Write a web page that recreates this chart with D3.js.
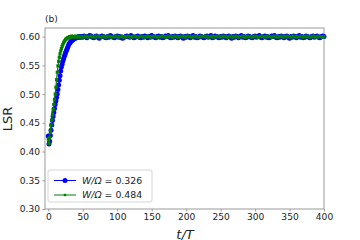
<!DOCTYPE html>
<html lang="en">
<head>
<meta charset="utf-8">
<title>LSR vs t/T</title>
<script src="https://d3js.org/d3.v7.min.js"></script>
<style>
body { margin: 0; background: #fff; }
text { font-family: "DejaVu Sans", sans-serif; fill: #222; }
</style>
</head>
<body>
<div id="my_dataviz"></div>
<script>

// ---- data ----
// sample times: every step during the rise, every 2 afterwards
var tRise = d3.range(0, 48, 1);
var tFlat = d3.range(48, 401, 2);
var times = tRise.concat(tFlat);

var blueRise = [0.427,0.413,0.418,0.428,0.437,0.446,0.454,0.461,0.468,0.475,
                0.482,0.488,0.494,0.500,0.508,0.516,0.524,0.532,0.540,0.547,
                0.552,0.557,0.561,0.565,0.568,0.572,0.575,0.578,0.581,0.584,
                0.587,0.589,0.590,0.592,0.593,0.594,0.595,0.596,0.597,0.597,
                0.598,0.598,0.599,0.599,0.600,0.599,0.600,0.599];
var blueFlat = [0.600,0.599,0.601,0.600,0.598,0.600,0.602,0.601,0.599,0.598,
                0.600,0.601,0.599,0.597,0.600,0.601,0.600,0.599,0.598,0.600,
                0.599,0.602,0.600,0.599,0.598,0.600,0.601,0.599,0.600,0.598,
                0.597,0.599,0.600,0.601,0.600,0.599,0.602,0.600,0.598,0.599,
                0.600,0.601,0.599,0.598,0.600,0.599,0.601,0.600,0.598,0.600,
                0.599,0.602,0.600,0.599,0.598,0.600,0.601,0.599,0.600,0.598,
                0.599,0.601,0.600,0.602,0.599,0.598,0.600,0.599,0.601,0.600,
                0.598,0.600,0.601,0.599,0.597,0.600,0.599,0.601,0.600,0.598,
                0.600,0.602,0.599,0.600,0.598,0.599,0.601,0.600,0.599,0.598,
                0.600,0.601,0.599,0.600,0.602,0.598,0.599,0.601,0.600,0.599,
                0.598,0.600,0.599,0.601,0.600,0.598,0.600,0.601,0.599,0.597,
                0.600,0.599,0.601,0.600,0.598,0.600,0.602,0.599,0.600,0.598,
                0.599,0.601,0.600,0.599,0.598,0.600,0.601,0.599,0.600,0.602,
                0.599,0.598,0.600,0.601,0.599,0.600,0.598,0.599,0.601,0.600,
                0.602,0.599,0.598,0.600,0.599,0.601,0.600,0.598,0.600,0.601,
                0.599,0.597,0.600,0.599,0.601,0.600,0.598,0.600,0.602,0.599,
                0.600,0.598,0.599,0.601,0.600,0.599,0.598,0.600,0.601,0.599,
                0.600,0.601,0.599,0.598,0.600,0.601,0.600];

var greenRise = [0.422,0.414,0.424,0.435,0.446,0.455,0.464,0.473,0.482,0.491,
                 0.500,0.512,0.525,0.538,0.549,0.557,0.564,0.570,0.575,0.579,
                 0.583,0.586,0.589,0.591,0.593,0.595,0.596,0.597,0.598,0.598,
                 0.599,0.600,0.599,0.600,0.601,0.600,0.599,0.600,0.600,0.601,
                 0.600,0.599,0.600,0.600,0.601,0.600,0.599,0.600];
var greenFlat = [0.600,0.600,0.599,0.601,0.600,0.599,0.600,0.601,0.600,0.599,
                 0.600,0.601,0.600,0.600,0.599,0.600,0.601,0.600,0.599,0.600,
                 0.601,0.600,0.599,0.600,0.600,0.601,0.600,0.599,0.600,0.601,
                 0.600,0.599,0.600,0.600,0.601,0.600,0.599,0.600,0.601,0.600,
                 0.600,0.599,0.600,0.601,0.600,0.600,0.599,0.600,0.601,0.600,
                 0.599,0.600,0.600,0.601,0.600,0.599,0.600,0.600,0.601,0.600,
                 0.600,0.599,0.600,0.601,0.600,0.600,0.599,0.600,0.601,0.600,
                 0.599,0.600,0.600,0.601,0.600,0.599,0.600,0.601,0.600,0.600,
                 0.599,0.600,0.601,0.600,0.600,0.599,0.600,0.601,0.600,0.600,
                 0.601,0.600,0.599,0.600,0.600,0.601,0.599,0.600,0.600,0.601,
                 0.600,0.599,0.600,0.601,0.600,0.600,0.599,0.600,0.601,0.600,
                 0.599,0.600,0.601,0.600,0.599,0.600,0.600,0.601,0.600,0.599,
                 0.600,0.601,0.600,0.600,0.599,0.600,0.601,0.600,0.599,0.600,
                 0.600,0.601,0.600,0.599,0.600,0.601,0.600,0.600,0.599,0.600,
                 0.601,0.600,0.599,0.600,0.600,0.601,0.600,0.599,0.600,0.601,
                 0.600,0.600,0.599,0.600,0.601,0.600,0.599,0.600,0.600,0.601,
                 0.600,0.599,0.600,0.601,0.600,0.600,0.599,0.600,0.601,0.600,
                 0.599,0.600,0.601,0.600,0.600,0.599,0.600];

var blueVals = blueRise.concat(blueFlat);
var greenVals = greenRise.concat(greenFlat);

var xTicks = [0, 50, 100, 150, 200, 250, 300, 350, 400];
var yTicks = [0.30, 0.35, 0.40, 0.45, 0.50, 0.55, 0.60];
var legendLabels = ["0.326", "0.484"];

// ---- layout ----
var W = 360, H = 240;
var pLeft = 45, pRight = 324, pTop = 28, pBottom = 209;
var axisColor = "#999";
var fs = "9.1px";

var svg = d3.select("#my_dataviz")
  .append("svg")
    .attr("width", W)
    .attr("height", H);

var x = d3.scaleLinear().domain([-4.8, 400]).range([pLeft, pRight]);
var y = d3.scaleLinear().domain([0.30, 0.615]).range([pBottom, pTop]);

// x axis
var xAxis = svg.append("g")
  .attr("transform", "translate(0," + pBottom + ")")
  .call(d3.axisBottom(x).tickValues(xTicks).tickSize(2.5).tickPadding(2));
// y axis
var yAxis = svg.append("g")
  .attr("transform", "translate(" + pLeft + ",0)")
  .call(d3.axisLeft(y).tickValues(yTicks).tickFormat(d3.format(".2f")).tickSize(2.5).tickPadding(2.5));

[xAxis, yAxis].forEach(function(g) {
  g.select(".domain").remove();
  g.selectAll("line").attr("stroke", axisColor);
  g.selectAll("text").attr("font-size", fs).attr("font-family", "DejaVu Sans").attr("fill", "#222");
});

// frame
svg.append("rect")
  .attr("x", pLeft).attr("y", pTop)
  .attr("width", pRight - pLeft).attr("height", pBottom - pTop)
  .attr("fill", "none").attr("stroke", axisColor).attr("stroke-width", 1);

var plot = svg.append("g");

function drawSeries(vals, color, shape) {
  var pts = times.map(function(t, i) { return [t, vals[i]]; });
  var line = d3.line().x(function(d) { return x(d[0]); }).y(function(d) { return y(d[1]); });
  plot.append("path")
    .datum(pts)
    .attr("d", line)
    .attr("fill", "none")
    .attr("stroke", color)
    .attr("stroke-width", 1.2);
  if (shape === "circle") {
    plot.append("g").selectAll("circle")
      .data(pts).enter().append("circle")
        .attr("cx", function(d) { return x(d[0]); })
        .attr("cy", function(d) { return y(d[1]); })
        .attr("r", 2.5)
        .attr("fill", color);
  } else {
    plot.append("g").selectAll("rect")
      .data(pts).enter().append("rect")
        .attr("x", function(d) { return x(d[0]) - 1.6; })
        .attr("y", function(d) { return y(d[1]) - 1.6; })
        .attr("width", 3.2).attr("height", 3.2)
        .attr("fill", color);
  }
}

drawSeries(blueVals, "#0000ff", "circle");
drawSeries(greenVals, "#008000", "square");

// legend
var lg = svg.append("g");
lg.append("rect")
  .attr("x", 48).attr("y", 170).attr("width", 104).attr("height", 32)
  .attr("rx", 2).attr("fill", "#fff").attr("fill-opacity", 0.8)
  .attr("stroke", "#ccc").attr("stroke-width", 0.8);

var legendColors = ["#0000ff", "#008000"];
legendLabels.forEach(function(lab, i) {
  var yy = 180.5 + i * 14.5;
  lg.append("line").attr("x1", 54).attr("x2", 76).attr("y1", yy).attr("y2", yy)
    .attr("stroke", legendColors[i]).attr("stroke-width", 1);
  if (i === 0) {
    lg.append("circle").attr("cx", 65).attr("cy", yy).attr("r", 2.5).attr("fill", legendColors[i]);
  } else {
    lg.append("rect").attr("x", 63.8).attr("y", yy - 1.2).attr("width", 2.4).attr("height", 2.4).attr("fill", legendColors[i]);
  }
  var t = lg.append("text").attr("x", 82).attr("y", yy + 3.3).attr("font-size", "9.4px");
  t.append("tspan").attr("font-style", "italic").text("W/Ω");
  t.append("tspan").text(" = " + lab);
});

// labels
svg.append("text")
  .attr("transform", "translate(11.5,119) rotate(-90)")
  .attr("text-anchor", "middle")
  .attr("font-size", "13px")
  .text("LSR");

svg.append("text")
  .attr("x", 185).attr("y", 238.5)
  .attr("text-anchor", "middle")
  .attr("font-size", "13px")
  .attr("font-style", "italic")
  .text("t/T");

svg.append("text")
  .attr("x", 45).attr("y", 22)
  .attr("font-size", fs)
  .text("(b)");
</script>
</body>
</html>
